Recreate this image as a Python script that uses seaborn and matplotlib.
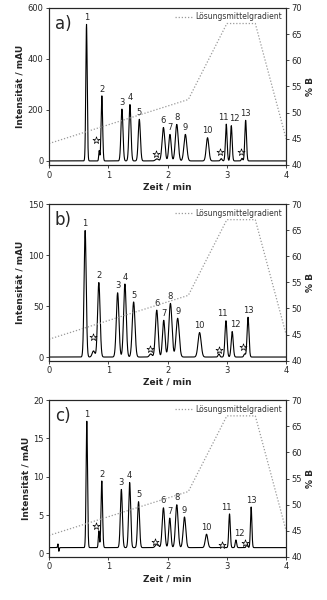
import numpy as np
import pandas as pd
import matplotlib
matplotlib.use("Agg")
import matplotlib.pyplot as plt
import seaborn as sns

# ---------------- data ----------------
peak_labels = [str(i) for i in range(1, 14)]

# panel a) main peaks: retention time (min), height (mAU), sigma (min)
a_rt = [0.632, 0.891, 1.23, 1.365, 1.523, 1.93, 2.04, 2.155, 2.30, 2.674, 2.99, 3.075, 3.317]
a_h = [535, 255, 203, 221, 163, 131, 104, 143, 104, 91, 144, 138, 159]
a_sd = [0.012, 0.013, 0.017, 0.017, 0.018, 0.023, 0.020, 0.024, 0.024, 0.022, 0.014, 0.014, 0.014]
a_imp_rt = [0.846, 1.82, 2.905, 3.255]
a_imp_h = [40, 8, 9, 10]
a_imp_sd = [0.008, 0.025, 0.014, 0.012]
a_star_x = [0.80, 1.80, 2.89, 3.24]
a_star_y = [82, 27, 36, 36]

# panel b)
b_rt = [0.609, 0.84, 1.157, 1.28, 1.427, 1.817, 1.935, 2.048, 2.17, 2.54, 2.985, 3.09, 3.357]
b_h = [124, 73, 63, 71.6, 54, 46, 36, 52.6, 38, 24, 35.6, 25, 39]
b_sd = [0.018, 0.021, 0.022, 0.022, 0.023, 0.023, 0.021, 0.026, 0.026, 0.026, 0.017, 0.017, 0.016]
b_imp_rt = [0.75, 1.715, 2.866, 3.30]
b_imp_h = [6, 3, 3, 3]
b_imp_sd = [0.022, 0.022, 0.014, 0.014]
b_star_x = [0.745, 1.70, 2.86, 3.28]
b_star_y = [20, 8, 7, 9.5]

# panel c)
c_rt = [0.637, 0.89, 1.22, 1.36, 1.51, 1.93, 2.037, 2.155, 2.285, 2.657, 3.045, 3.153, 3.41]
c_h = [16.5, 8.7, 7.6, 8.5, 6.0, 5.2, 3.85, 5.6, 4.0, 1.75, 4.4, 1.0, 5.3]
c_sd = [0.012, 0.013, 0.017, 0.017, 0.017, 0.021, 0.018, 0.022, 0.022, 0.021, 0.013, 0.012, 0.012]
c_imp_rt = [0.84, 1.82, 2.93, 3.34]
c_imp_h = [2.2, 0.5, 0.5, 0.5]
c_imp_sd = [0.009, 0.025, 0.014, 0.012]
c_star_x = [0.79, 1.79, 2.92, 3.31]
c_star_y = [3.56, 1.5, 1.1, 1.4]
c_baseline = 0.75

# solvent gradient (% B)
grad_t = [0.0, 2.35, 3.0, 3.48, 4.0]
grad_b = [44.1, 52.5, 67.0, 67.0, 45.0]

# axis settings
y_ticks = {"a": [0, 200, 400, 600], "b": [0, 50, 100, 150], "c": [0, 5, 10, 15, 20]}
y_lims = {"a": (-16, 600), "b": (-3.5, 150), "c": (-0.45, 20)}
x_ticks = [0, 1, 2, 3, 4]
b_ticks = [40, 45, 50, 55, 60, 65, 70]

panels = {
    "a": (a_rt, a_h, a_sd, a_imp_rt, a_imp_h, a_imp_sd, a_star_x, a_star_y, 0.0),
    "b": (b_rt, b_h, b_sd, b_imp_rt, b_imp_h, b_imp_sd, b_star_x, b_star_y, 0.0),
    "c": (c_rt, c_h, c_sd, c_imp_rt, c_imp_h, c_imp_sd, c_star_x, c_star_y, c_baseline),
}

# ---------------- figure ----------------
sns.set_theme(style="ticks")
plt.rcParams["font.family"] = ["DejaVu Sans"]

fig = plt.figure(figsize=(3.27, 6.0), dpi=100)
positions = {"a": [0.150, 0.725, 0.725, 0.262],
             "b": [0.150, 0.399, 0.725, 0.261],
             "c": [0.150, 0.072, 0.725, 0.261]}

t = np.linspace(0, 4, 4001)

for key, (rt, h, sd, irt, ih, isd, sx, sy, base) in panels.items():
    ax = fig.add_axes(positions[key])
    sig = np.full_like(t, base)
    for r, hh, s in zip(list(rt) + list(irt), list(h) + list(ih), list(sd) + list(isd)):
        sig += hh * np.exp(-0.5 * ((t - r) / s) ** 2)
    if key == "c":
        # small injection artifact
        sig += 0.5 * np.exp(-0.5 * ((t - 0.15) / 0.006) ** 2)
        sig -= 0.5 * np.exp(-0.5 * ((t - 0.165) / 0.006) ** 2)
    df = pd.DataFrame({"t": t, "s": sig})
    sns.lineplot(data=df, x="t", y="s", ax=ax, color="black", linewidth=0.8)

    span = y_lims[key][1]
    for lab, r, hh in zip(peak_labels, rt, h):
        dx = {"11": -0.055, "12": 0.05}.get(lab, 0.0)
        ax.text(r + dx, hh + base + span * 0.015, lab, ha="center", va="bottom",
                fontsize=6)
    ax.scatter(sx, sy, marker="*", s=28, facecolor="white", edgecolor="black",
               linewidth=0.5, zorder=5)

    ax.set_xlim(0, 4)
    ax.set_ylim(*y_lims[key])
    ax.set_xticks(x_ticks)
    ax.set_yticks(y_ticks[key])
    ax.tick_params(labelsize=6, length=2.5, width=0.6, pad=1.5)
    ax.set_xlabel("Zeit / min", fontsize=6.5, fontweight="bold", labelpad=2)
    ax.set_ylabel("Intensität / mAU", fontsize=6.5, fontweight="bold", labelpad=2)
    for sp in ax.spines.values():
        sp.set_linewidth(0.8)
    ax.text(0.025, 0.955, key + ")", transform=ax.transAxes, fontsize=12,
            ha="left", va="top")

    ax2 = ax.twinx()
    gdf = pd.DataFrame({"t": grad_t, "b": grad_b})
    sns.lineplot(data=gdf, x="t", y="b", ax=ax2, color="#9a9a9a", linewidth=0.9,
                 linestyle=(0, (1, 1.5)), label="Lösungsmittelgradient")
    ax2.set_ylim(40, 70)
    ax2.set_yticks(b_ticks)
    ax2.set_xlim(0, 4)
    ax2.tick_params(labelsize=6, length=2.5, width=0.6, pad=1.5)
    ax2.set_ylabel("% B", fontsize=6.5, fontweight="bold", rotation=90, labelpad=3)
    for sp in ax2.spines.values():
        sp.set_linewidth(0.8)
    leg = ax2.legend(loc="upper right", frameon=False, fontsize=5.5,
                     handlelength=2.2, handletextpad=0.4, borderaxespad=0.2)
    for txt in leg.get_texts():
        txt.set_color("#333333")

fig.savefig("out.png", dpi=100)
